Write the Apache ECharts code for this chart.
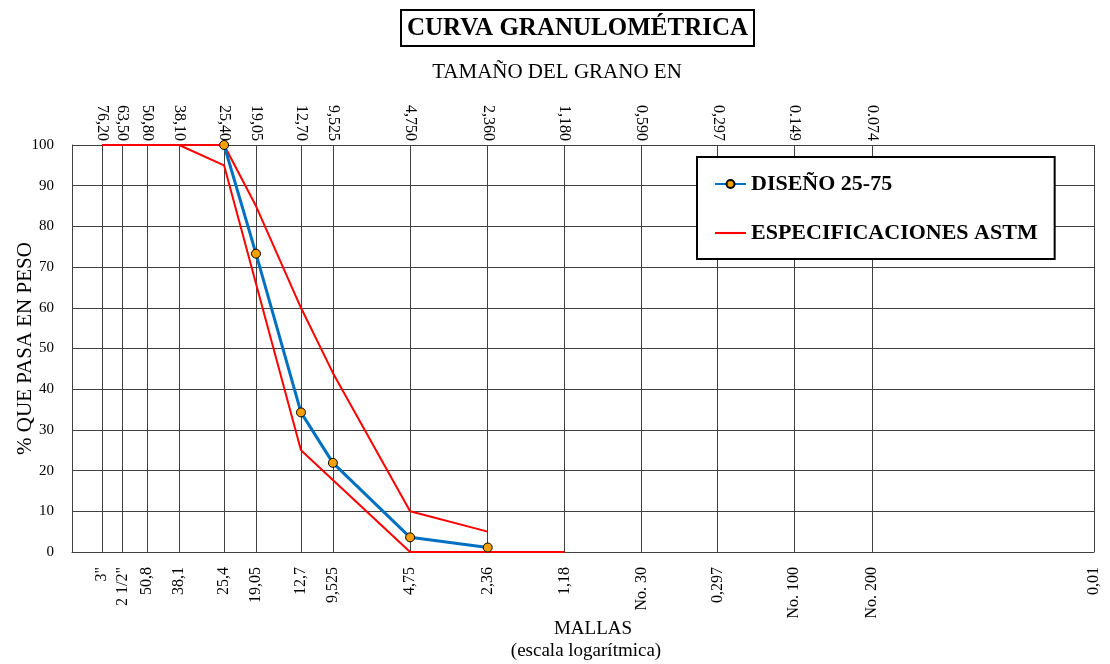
<!DOCTYPE html>
<html>
<head>
<meta charset="utf-8">
<script src="https://cdn.jsdelivr.net/npm/echarts@6/dist/echarts.min.js"></script>
<style>
html,body{margin:0;padding:0;background:#fff;}
#chart{width:1110px;height:664px;}
</style>
</head>
<body>
<div id="chart"></div>
<script>
// ---- data ----
const topSizes = [76.2, 63.5, 50.8, 38.1, 25.4, 19.05, 12.7, 9.525, 4.75, 2.36, 1.18, 0.59, 0.297, 0.149, 0.074];
const topLabels = ['76,20','63,50','50,80','38,10','25,40','19,05','12,70','9,525','4,750','2,360','1,180','0,590','0,297','0.149','0.074'];
const bottomSizes = [76.2, 63.5, 50.8, 38.1, 25.4, 19.05, 12.7, 9.525, 4.75, 2.36, 1.18, 0.59, 0.297, 0.149, 0.074, 0.01];
const bottomLabels = ['3"','2 1/2"','50,8','38,1','25,4','19,05','12,7','9,525','4,75','2,36','1,18','No. 30','0,297','No. 100','No. 200','0,01'];

const designSizes = [25.4, 19.05, 12.7, 9.525, 4.75, 2.36];
const designPass  = [100, 73.3, 34.3, 21.9, 3.6, 1.1];

const upperSizes = [76.2, 63.5, 50.8, 38.1, 25.4, 19.05, 12.7, 9.525, 4.75, 2.36];
const upperPass  = [100, 100, 100, 100, 100, 85, 60, 44, 10, 5];

const lowerSizes = [76.2, 63.5, 50.8, 38.1, 25.4, 12.7, 4.75, 2.36, 1.18];
const lowerPass  = [100, 100, 100, 100, 95, 25, 0, 0, 0];

const yTicks = [0, 10, 20, 30, 40, 50, 60, 70, 80, 90, 100];

const nameDesign = 'DISEÑO 25-75';
const nameSpec = 'ESPECIFICACIONES ASTM';

function zip(xs, ys){ return xs.map((x,i)=>[x, ys[i]]); }
function lookup(sizes, labels, v){
  let best=-1, bd=1e9;
  sizes.forEach((s,i)=>{ const d=Math.abs(Math.log(s)-Math.log(v)); if(d<bd){bd=d;best=i;} });
  return bd<0.005 ? labels[best] : '';
}

const FONT = '"Liberation Serif", "Times New Roman", serif';
const chart = echarts.init(document.getElementById('chart'));
chart.setOption({
  animation: false,
  backgroundColor: '#fff',
  textStyle: { fontFamily: FONT, color: '#000' },
  title: [
    { text: 'CURVA GRANULOMÉTRICA', left: 401, top: 10,
      padding: [6, 6, 5, 6], borderColor: '#000', borderWidth: 2,
      textStyle: { fontFamily: FONT, fontSize: 25, fontWeight: 'bold', color: '#000' } },
    { text: 'TAMAÑO DEL GRANO EN', left: 557, top: 62, textAlign: 'center', padding: 0,
      textStyle: { fontFamily: FONT, fontSize: 21, fontWeight: 'normal', color: '#000' } },
    { text: 'MALLAS', left: 593, top: 620, textAlign: 'center', padding: 0,
      textStyle: { fontFamily: FONT, fontSize: 19, fontWeight: 'normal', color: '#000' } },
    { text: '(escala logarítmica)', left: 586, top: 642, textAlign: 'center', padding: 0,
      textStyle: { fontFamily: FONT, fontSize: 19, fontWeight: 'normal', color: '#000' } }
  ],
  legend: {
    data: [
      { name: nameDesign },
      { name: nameSpec, icon: 'path://M0,0 L30,0 L30,2 L0,2 Z' }
    ],
    orient: 'vertical', left: 697, top: 157,
    padding: [16, 17, 15, 17], itemGap: 27,
    itemWidth: 31, itemHeight: 10, symbolKeepAspect: true,
    backgroundColor: '#fff', borderColor: '#000', borderWidth: 2,
    textStyle: { fontFamily: FONT, fontSize: 22, fontWeight: 'bold', color: '#000' }
  },
  grid: { left: 72, right: 16, top: 145, bottom: 112, containLabel: false, outerBoundsMode: 'none' },
  xAxis: [
    { type: 'log', logBase: 10, min: 0.01, max: 100, inverse: true, position: 'bottom',
      axisLine: { show: true, lineStyle: { color: '#404040', width: 1 } },
      axisTick: { show: false, customValues: bottomSizes },
      splitLine: { show: true, lineStyle: { color: '#404040', width: 1 } },
      axisLabel: { customValues: bottomSizes, rotate: 90, margin: 15, fontSize: 16, color: '#000', fontFamily: FONT,
        formatter: v => lookup(bottomSizes, bottomLabels, v) }
    },
    { type: 'log', logBase: 10, min: 0.01, max: 100, inverse: true, position: 'top',
      axisLine: { show: false },
      axisTick: { show: false, customValues: topSizes },
      splitLine: { show: false },
      axisLabel: { customValues: topSizes, rotate: 90, margin: 4, fontSize: 16, color: '#000', fontFamily: FONT,
        formatter: v => lookup(topSizes, topLabels, v) }
    }
  ],
  yAxis: {
    type: 'value', min: 0, max: 100, interval: 10,
    name: '% QUE PASA EN PESO', nameLocation: 'middle', nameGap: 36, nameRotate: 90,
    nameMoveOverlap: false,
    nameTextStyle: { fontFamily: FONT, fontSize: 21, color: '#000' },
    axisLine: { show: true, lineStyle: { color: '#404040', width: 1 } },
    axisTick: { show: false },
    splitLine: { show: true, lineStyle: { color: '#404040', width: 1 } },
    axisLabel: { fontSize: 15, color: '#000', fontFamily: FONT, margin: 18,
      formatter: v => yTicks.indexOf(v) >= 0 ? String(v) : '' }
  },
  series: [
    { name: nameSpec, type: 'line', xAxisIndex: 0, data: zip(upperSizes, upperPass),
      showSymbol: false, symbol: 'none', lineStyle: { color: '#FF0000', width: 2 }, itemStyle: { color: '#FF0000' }, z: 2 },
    { name: nameSpec, type: 'line', xAxisIndex: 0, data: zip(lowerSizes, lowerPass),
      showSymbol: false, symbol: 'none', lineStyle: { color: '#FF0000', width: 2 }, itemStyle: { color: '#FF0000' }, z: 2 },
    { name: nameDesign, type: 'line', xAxisIndex: 0, data: zip(designSizes, designPass),
      symbol: 'circle', symbolSize: 9,
      lineStyle: { color: '#0070C0', width: 3 },
      itemStyle: { color: '#F7A000', borderColor: '#000', borderWidth: 1 }, z: 3 }
  ]
});
</script>
</body>
</html>
